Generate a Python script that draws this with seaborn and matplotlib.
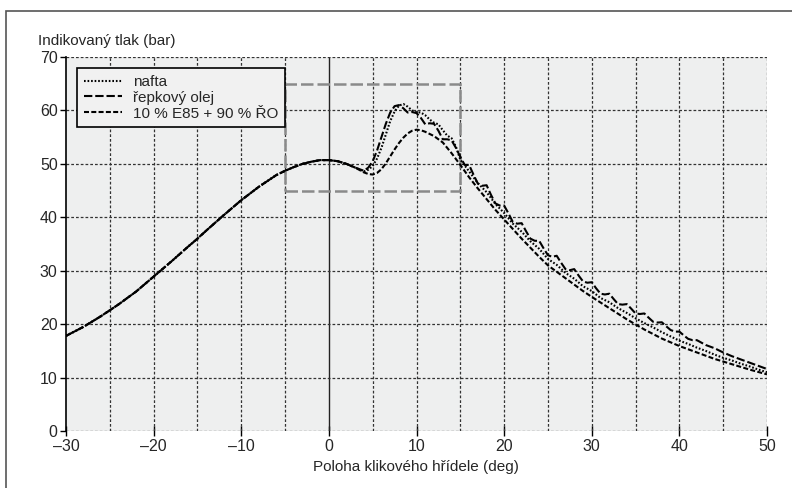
import numpy as np
import pandas as pd
import matplotlib
matplotlib.use("Agg")
import matplotlib.pyplot as plt
from matplotlib.patches import Rectangle
import seaborn as sns

# společná část (komprese) -30 .. 4 deg
x_spol = [-30, -28, -26, -25, -24, -22, -20, -18, -16, -15, -14, -12, -10, -8, -6,
          -5, -4, -3, -2, -1, 0, 1, 2, 3]
p_spol = [17.8, 19.5, 21.5, 22.6, 23.7, 26.1, 28.9, 31.7, 34.6, 36.0, 37.5, 40.4, 43.2,
          45.7, 47.9, 48.7, 49.4, 50.0, 50.4, 50.7, 50.7, 50.5, 50.0, 49.3]

# nafta
x_nafta = [4, 4.5, 5, 5.5, 6, 6.5, 7, 7.5, 8, 8.5, 9, 9.5, 10, 10.5, 11, 11.5, 12, 12.5,
           13, 13.5, 14, 14.5, 15, 16, 17, 18, 19, 20, 21, 22, 23, 24, 25, 26, 27, 28,
           29, 30, 31, 32, 33, 34, 35, 36, 37, 38, 39, 40, 41, 42, 43, 44, 45, 46, 47,
           48, 49, 50]
p_nafta = [48.6, 48.9, 49.6, 51.0, 53.0, 55.5, 58.0, 59.8, 60.9, 61.2, 60.7, 60.0, 59.7,
           59.6, 59.1, 58.3, 57.7, 57.4, 56.3, 55.3, 54.8, 53.2, 50.8, 48.6, 46.4, 44.7,
           42.5, 40.8, 38.8, 37.3, 35.5, 34.1, 32.2, 31.1, 29.6, 28.5, 27.1, 26.2, 24.9,
           24.1, 23.0, 22.1, 21.1, 20.2, 19.4, 18.5, 17.7, 16.9, 16.3, 15.6, 15.0, 14.3,
           13.7, 13.2, 12.6, 12.1, 11.5, 11.0]

# řepkový olej
x_repka = [4, 4.5, 5, 5.5, 6, 6.5, 7, 7.5, 8, 8.5, 9, 9.5, 10, 10.5, 11, 11.5, 12, 12.5,
           13, 13.5, 14, 14.5, 15, 15.5, 16, 16.5, 17, 17.5, 18, 18.5, 19, 19.5, 20, 20.5,
           21, 21.5, 22, 22.5, 23, 23.5, 24, 24.5, 25, 25.5, 26, 26.5, 27, 27.5, 28, 28.5,
           29, 29.5, 30, 30.5, 31, 31.5, 32, 32.5, 33, 33.5, 34, 34.5, 35, 35.5, 36, 36.5,
           37, 37.5, 38, 38.5, 39, 39.5, 40, 40.5, 41, 41.5, 42, 43, 44, 45, 46, 47, 48,
           49, 50]
p_repka = [48.7, 49.3, 50.5, 52.5, 55.0, 57.5, 59.6, 60.8, 61.0, 60.4, 59.6, 59.7, 59.5,
           58.6, 57.4, 57.6, 57.5, 56.2, 54.6, 54.6, 54.4, 53.0, 51.3, 49.8, 49.8, 48.0,
           46.3, 45.9, 46.0, 44.2, 42.6, 42.2, 42.2, 40.7, 39.1, 38.8, 38.9, 37.4, 36.0,
           35.6, 35.6, 34.2, 32.9, 32.6, 32.8, 31.5, 30.3, 30.1, 30.3, 29.1, 28.0, 27.75,
           27.85, 26.7, 25.7, 25.55, 25.7, 24.7, 23.75, 23.65, 23.75, 22.9, 22.0, 21.9,
           22.0, 21.2, 20.45, 20.3, 20.35, 19.6, 18.9, 18.6, 18.6, 17.9, 17.25, 17.0, 17.0,
           16.1, 15.5, 14.7, 14.0, 13.4, 12.8, 12.2, 11.6]

# 10 % E85 + 90 % ŘO
x_e85 = [4, 4.5, 5, 5.5, 6, 6.5, 7, 7.5, 8, 8.5, 9, 9.5, 10, 10.5, 11, 11.5, 12, 13, 14,
         15, 16, 17, 18, 19, 20, 21, 22, 23, 24, 25, 26, 27, 28, 29, 30, 32, 34, 36, 38,
         40, 42, 44, 46, 48, 50]
p_e85 = [48.4, 48.1, 48.0, 48.3, 49.0, 50.1, 51.4, 52.7, 53.9, 54.9, 55.7, 56.2, 56.4,
         56.3, 56.0, 55.6, 55.2, 54.0, 52.0, 49.8, 47.5, 45.4, 43.4, 41.4, 39.6, 37.8,
         36.0, 34.3, 32.6, 31.0, 29.8, 28.6, 27.4, 26.2, 25.1, 23.0, 20.9, 19.0, 17.3,
         15.9, 14.7, 13.5, 12.5, 11.5, 10.6]

nazvy = ["nafta", "řepkový olej", "10 % E85 + 90 % ŘO"]
carky = [(0.8, 0.9), (4.0, 1.4), (2.4, 1.1)]

frames = []
for nazev, xs, ps in zip(nazvy, [x_nafta, x_repka, x_e85], [p_nafta, p_repka, p_e85]):
    frames.append(pd.DataFrame({"uhel": x_spol + xs, "tlak": p_spol + ps, "palivo": nazev}))
df = pd.concat(frames, ignore_index=True)

sns.set_style("white")
plt.rcParams["font.family"] = ["Liberation Sans", "DejaVu Sans"]
plt.rcParams["font.size"] = 11

fig = plt.figure(figsize=(7.92, 4.88), dpi=100)
ax = fig.add_axes([66 / 792, 57 / 488, 701 / 792, 374 / 488])
ax.set_facecolor("#eeefef")

# mřížka
for gx in np.arange(-25, 51, 5):
    if gx == 0:
        ax.axvline(gx, color="#222222", lw=1.0, zorder=1)
    else:
        ax.axvline(gx, color="#333333", lw=0.9, dashes=(2.2, 1.6), zorder=1)
for gy in np.arange(0, 71, 10):
    ax.axhline(gy, color="#333333", lw=0.9, dashes=(2.2, 1.6), zorder=1)

# přiblížená oblast
ax.add_patch(Rectangle((-5, 45), 20, 20, fill=False, edgecolor="#8a8a8a", lw=1.8,
                       linestyle=(0, (5, 1.6)), zorder=2))

for nazev, d in zip(nazvy, carky):
    sub = df[df["palivo"] == nazev]
    sns.lineplot(data=sub, x="uhel", y="tlak", ax=ax, color="black", lw=1.5,
                 dashes=False, label=nazev, zorder=3, sort=False)
    ax.lines[-1].set_dashes(d)

ax.set_xlim(-30, 50)
ax.set_ylim(0, 70)
ax.set_xticks(np.arange(-30, 51, 10))
ax.set_xticks(np.arange(-25, 51, 10), minor=True)
ax.set_yticks(np.arange(0, 71, 10))
ax.set_xticklabels(["–30", "–20", "–10", "0", "10", "20", "30", "40", "50"])
ax.tick_params(axis="both", which="both", direction="out", length=4, width=1,
               color="black", labelsize=11.5, pad=2)
ax.tick_params(axis="x", which="both", direction="inout", length=7)
ax.tick_params(left=True, bottom=True)
ax.set_xlabel("")
ax.set_ylabel("")
for s in ["top", "right", "bottom"]:
    ax.spines[s].set_visible(False)
ax.spines["left"].set_color("black")
ax.spines["left"].set_linewidth(1.2)

leg = ax.legend(loc="upper left", bbox_to_anchor=(0.0157, 0.9706), borderaxespad=0,
                frameon=True, fancybox=False, fontsize=11, handlelength=2.5,
                handletextpad=0.7, labelspacing=0.12, borderpad=0.45)
leg.get_frame().set_edgecolor("black")
leg.get_frame().set_linewidth(1.2)
leg.get_frame().set_facecolor("#f1f1f1")
leg.get_frame().set_alpha(1)
for h, d in zip(leg.get_lines(), carky):
    h.set_dashes(d)
    h.set_linewidth(1.5)

fig.text(38 / 792, 1 - 41 / 488, "Indikovaný tlak (bar)", fontsize=11, va="center", ha="left")
fig.text(416 / 792, 1 - 467 / 488, "Poloha klikového hřídele (deg)", fontsize=11,
         va="center", ha="center")

# rámeček obrázku
fig.add_artist(Rectangle((6 / 792, -0.05), 1.1, 1.05 - 11 / 488, transform=fig.transFigure,
                         fill=False, edgecolor="#555555", lw=1.2))

fig.savefig("out.png", dpi=100, facecolor="white")
